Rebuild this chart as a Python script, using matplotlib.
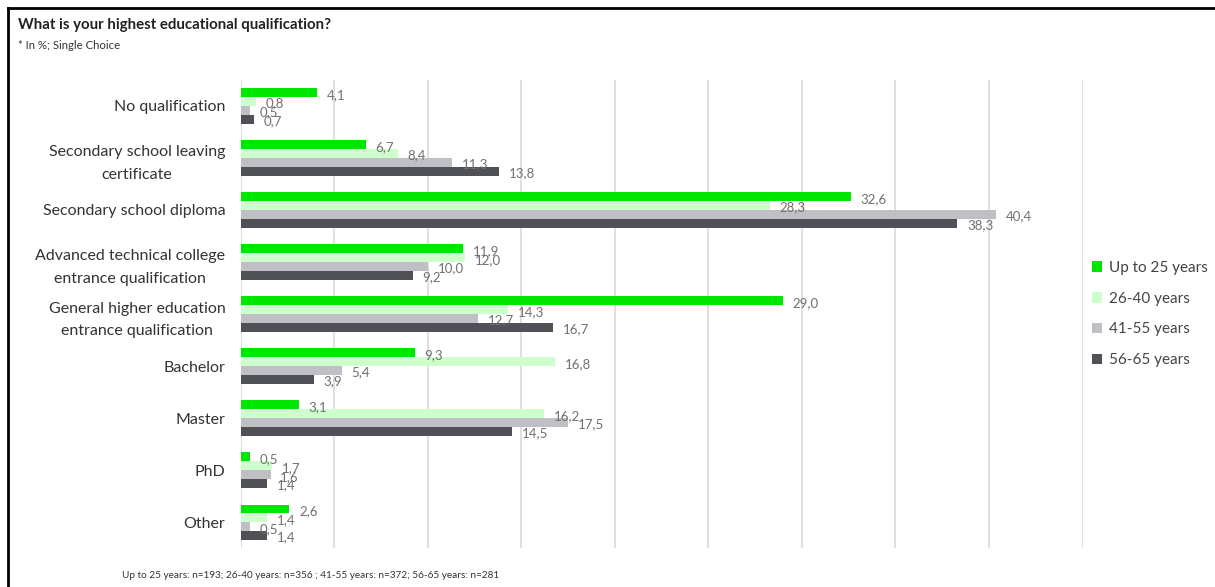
import matplotlib
matplotlib.use("Agg")
import matplotlib.pyplot as plt
import numpy as np

categories = [
    "No qualification",
    "Secondary school leaving\ncertificate",
    "Secondary school diploma",
    "Advanced technical college\nentrance qualification",
    "General higher education\nentrance qualification",
    "Bachelor",
    "Master",
    "PhD",
    "Other",
]
series_names = ["Up to 25 years", "26-40 years", "41-55 years", "56-65 years"]
up_to_25 = [4.1, 6.7, 32.6, 11.9, 29.0, 9.3, 3.1, 0.5, 2.6]
age_26_40 = [0.8, 8.4, 28.3, 12.0, 14.3, 16.8, 16.2, 1.7, 1.4]
age_41_55 = [0.5, 11.3, 40.4, 10.0, 12.7, 5.4, 17.5, 1.6, 0.5]
age_56_65 = [0.7, 13.8, 38.3, 9.2, 16.7, 3.9, 14.5, 1.4, 1.4]
colors = ["#00e600", "#ccffcc", "#c0bfc5", "#505057"]

plt.rcParams["font.family"] = ["Lato", "DejaVu Sans"]

fig = plt.figure(figsize=(12.15, 5.87), dpi=100)
ax = fig.add_axes([0.198, 0.066, 0.693, 0.798])

y = np.arange(len(categories))
h = 0.17
for i, (vals, name, c) in enumerate(zip([up_to_25, age_26_40, age_41_55, age_56_65], series_names, colors)):
    pos = y + (i - 1.5) * h
    ax.barh(pos, vals, height=h, color=c, label=name, zorder=2)
    for p, v in zip(pos, vals):
        ax.annotate(f"{v:.1f}".replace(".", ","), (v, p), xytext=(7, -1.5),
                    textcoords="offset points", va="center", ha="left",
                    fontsize=9.5, color="#707070")

ax.set_xlim(0, 45)
ax.set_ylim(len(categories) - 0.5, -0.5)
ax.set_xticks(np.arange(0, 46, 5))
ax.set_xticklabels([])
ax.tick_params(axis="x", length=0)
ax.tick_params(axis="y", length=0, pad=11, labelsize=11.5, labelcolor="#333333")
ax.set_yticks(y)
ax.set_yticklabels(categories, linespacing=1.75)
for t in ax.get_yticklabels():
    t.set_multialignment("center")
ax.grid(axis="x", color="#d9d9d9", linewidth=1.2, zorder=0)
for s in ax.spines.values():
    s.set_visible(False)

ax.legend(loc="center left", bbox_to_anchor=(1.0, 0.5), frameon=False,
          fontsize=11, handlelength=0.7, handleheight=0.7, borderaxespad=0.2,
          handletextpad=0.4, labelspacing=1.1, labelcolor="#444444")

fig.text(0.015, 0.957, "What is your highest educational qualification?",
         fontsize=10.8, fontweight="bold", color="#222222", va="center")
fig.text(0.015, 0.922, "* In %; Single Choice", fontsize=8.2, color="#333333", va="center")
fig.text(0.1, 0.02, "Up to 25 years: n=193; 26-40 years: n=356 ; 41-55 years: n=372; 56-65 years: n=281",
         fontsize=7.2, color="#333333", va="center")

# frame along the top and left edges
fig.add_artist(plt.Line2D([0.0065, 1.0], [0.986, 0.986], transform=fig.transFigure, color="black", linewidth=2))
fig.add_artist(plt.Line2D([0.0065, 0.0065], [0.0, 0.986], transform=fig.transFigure, color="black", linewidth=2))

fig.savefig("out.png", dpi=100)
